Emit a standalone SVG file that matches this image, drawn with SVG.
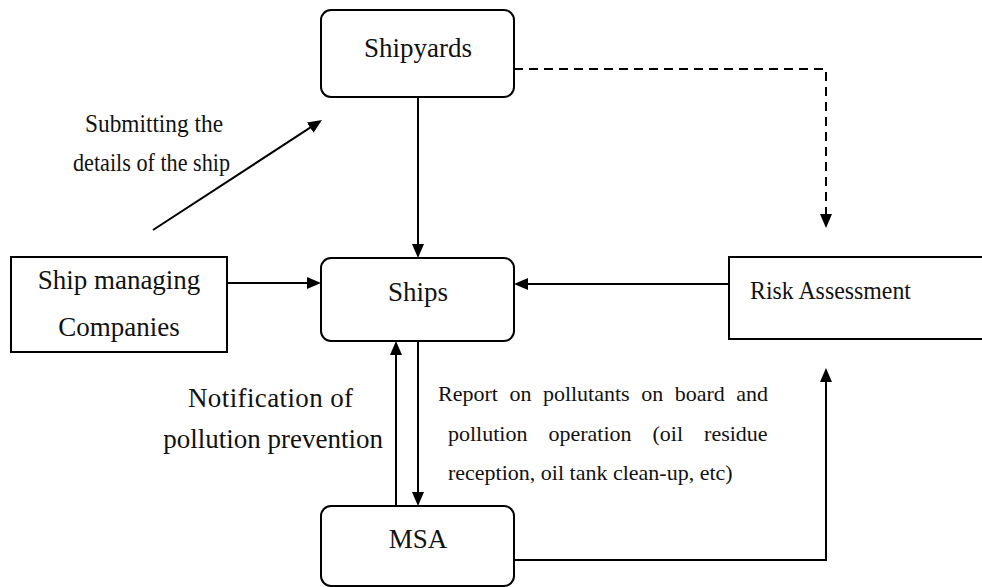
<svg xmlns="http://www.w3.org/2000/svg" width="982" height="587" viewBox="0 0 982 587">
<style>
.box{fill:#fff;stroke:#000;stroke-width:2}
text{font-family:'Liberation Serif','Times New Roman',serif;fill:#111}
.lbl{font-size:27px}
.ln{fill:none;stroke:#000;stroke-width:2}
.dash{stroke-dasharray:9,6}
</style>
<defs>
<marker id="ah" markerUnits="userSpaceOnUse" markerWidth="16" markerHeight="14" refX="10" refY="6" orient="auto">
<path d="M0,0 L14,6 L0,12 z" fill="#000"/>
</marker>
</defs>
<rect width="982" height="587" fill="#fff"/>

<g id="connectors">
<line class="ln" x1="418" y1="97" x2="418" y2="254" marker-end="url(#ah)"/>
<polyline class="ln dash" points="514,69 826,69 826,224" marker-end="url(#ah)"/>
<line class="ln" x1="153" y1="230" x2="318.6" y2="122.2" marker-end="url(#ah)"/>
<line class="ln" x1="227" y1="283" x2="317" y2="283" marker-end="url(#ah)"/>
<line class="ln" x1="729" y1="284" x2="518" y2="284" marker-end="url(#ah)"/>
<line class="ln" x1="396" y1="506" x2="396" y2="345" marker-end="url(#ah)"/>
<line class="ln" x1="418" y1="341" x2="418" y2="502" marker-end="url(#ah)"/>
<polyline class="ln" points="514,560 826,560 826,372" marker-end="url(#ah)"/>
</g>

<g id="shipyards">
<rect class="box" x="321" y="10" width="193" height="87" rx="10"/>
<text class="lbl" x="418" y="57" text-anchor="middle">Shipyards</text>
</g>

<g id="ships">
<rect class="box" x="321" y="258" width="193" height="83" rx="10"/>
<text class="lbl" x="418" y="301" text-anchor="middle">Ships</text>
</g>

<g id="ship-managing">
<rect class="box" x="11" y="257" width="216" height="95"/>
<text class="lbl" x="119" y="289" text-anchor="middle">Ship managing</text>
<text class="lbl" x="119" y="336" text-anchor="middle">Companies</text>
</g>

<g id="risk">
<rect class="box" x="729" y="257" width="260" height="82"/>
<text x="750" y="299" font-size="26" textLength="161" lengthAdjust="spacingAndGlyphs">Risk Assessment</text>
</g>

<g id="msa">
<rect class="box" x="321" y="506" width="193" height="80" rx="10"/>
<text class="lbl" x="418" y="548" text-anchor="middle">MSA</text>
</g>

<g id="labels">
<text x="85" y="132" font-size="25" textLength="138" lengthAdjust="spacingAndGlyphs">Submitting the</text>
<text x="73" y="171" font-size="25" textLength="157" lengthAdjust="spacingAndGlyphs">details of the ship</text>
<text x="188" y="407" font-size="27" textLength="165" lengthAdjust="spacing">Notification of</text>
<text x="383" y="448" font-size="27" text-anchor="end">pollution prevention</text>
<text x="438" y="401" font-size="22" word-spacing="6">Report on pollutants on board and</text>
<text x="448" y="441" font-size="22" word-spacing="15.5">pollution operation (oil residue</text>
<text x="448" y="480" font-size="22">reception, oil tank clean-up, etc)</text>
</g>
</svg>
